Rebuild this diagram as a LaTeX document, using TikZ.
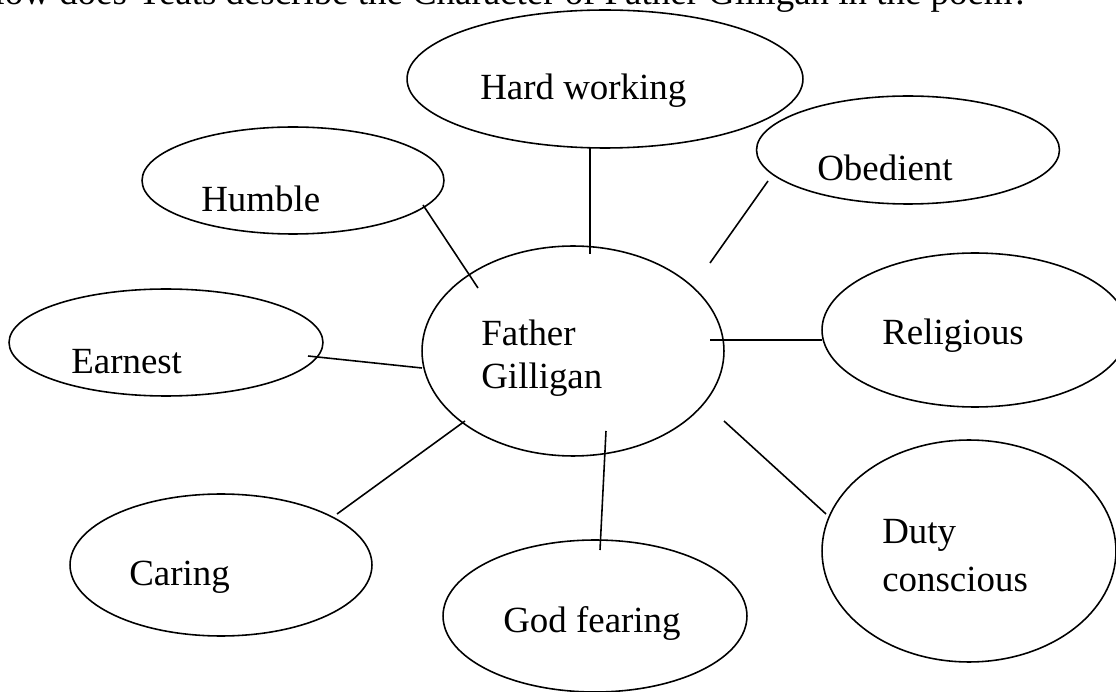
\documentclass[tikz,border=0pt]{standalone}
\usepackage{fontspec}
\setmainfont{Liberation Serif}
\usetikzlibrary{shapes.geometric}

\begin{document}
\begin{tikzpicture}[x=0.02cm,y=-0.02cm,
		trait/.style={ellipse,draw,line width=0.9pt,inner sep=0pt},
		word/.style={anchor=base west,inner sep=0pt,align=left,font=\fontsize{21}{24.5}\selectfont},
		link/.style={line width=0.9pt}]
	\useasboundingbox (0,0) rectangle (1116,692);
	\clip (0,0) rectangle (1116,692);
	
	\node[word] (title) at (-22,5) {How does Yeats describe the Character of Father Gilligan in the poem?};
	
	\node[trait,minimum width=7.92cm,minimum height=2.76cm] (hard) at (605,79) {};
	\node[trait,minimum width=6.06cm,minimum height=2.16cm] (obed) at (908,150) {};
	\node[trait,minimum width=6.04cm,minimum height=2.14cm] (hum) at (293,180.5) {};
	\node[trait,minimum width=6.28cm,minimum height=2.14cm] (earn) at (166,342.5) {};
	\node[trait,minimum width=6.04cm,minimum height=4.2cm] (fg) at (573,351) {};
	\node[trait,minimum width=6.12cm,minimum height=3.08cm] (rel) at (975,330) {};
	\node[trait,minimum width=6.04cm,minimum height=2.84cm] (car) at (221,565) {};
	\node[trait,minimum width=6.08cm,minimum height=3.04cm] (god) at (595,616) {};
	\node[trait,minimum width=5.88cm,minimum height=4.44cm] (duty) at (969,551) {};
	
	\node[word] (hard-t) at (480,100) {Hard working};
	\node[word] (obed-t) at (817,181) {Obedient};
	\node[word] (hum-t) at (201,212) {Humble};
	\node[word] (earn-t) at (71,374) {Earnest};
	\node[word] (fg-t) at (481,389) {Father\\Gilligan};
	\node[word] (rel-t) at (882,345) {Religious};
	\node[word] (car-t) at (129,585) {Caring};
	\node[word] (god-t) at (503,632) {God fearing};
	\node[word,font=\fontsize{21}{27.2}\selectfont] (duty-t) at (882,591) {Duty\\conscious};
	
	\coordinate (hard-a) at (590,147);
	\coordinate (hard-b) at (590,254);
	\coordinate (obed-a) at (768,181);
	\coordinate (obed-b) at (710,263);
	\coordinate (hum-a) at (423,205);
	\coordinate (hum-b) at (478,288);
	\coordinate (earn-a) at (308,356);
	\coordinate (earn-b) at (422,368);
	\coordinate (rel-a) at (822,340);
	\coordinate (rel-b) at (710,340);
	\coordinate (car-a) at (337,514);
	\coordinate (car-b) at (465,421);
	\coordinate (god-a) at (600,550);
	\coordinate (god-b) at (606,431);
	\coordinate (duty-a) at (826,514);
	\coordinate (duty-b) at (724,421);
	
	\draw[link] (hard-a) -- (hard-b);
	\draw[link] (obed-a) -- (obed-b);
	\draw[link] (hum-a) -- (hum-b);
	\draw[link] (earn-a) -- (earn-b);
	\draw[link] (rel-a) -- (rel-b);
	\draw[link] (car-a) -- (car-b);
	\draw[link] (god-a) -- (god-b);
	\draw[link] (duty-a) -- (duty-b);
\end{tikzpicture}
\end{document}
